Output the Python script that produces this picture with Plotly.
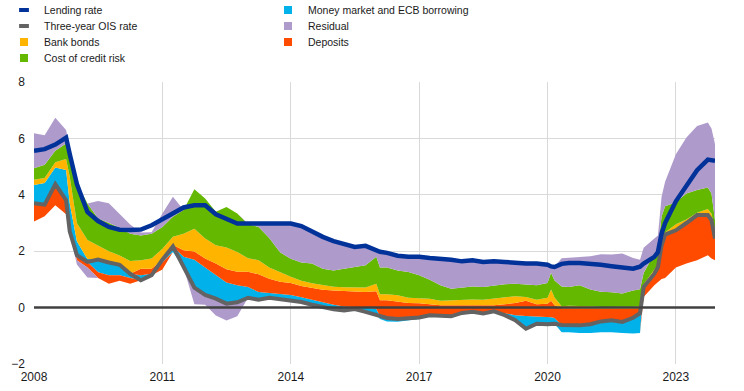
import plotly.graph_objects as go

# ---------------- data ----------------
months = [
    "2008-01", "2008-04", "2008-07", "2008-10", "2008-11", "2009-01", "2009-04", "2009-07", "2009-10",
    "2010-01", "2010-04", "2010-07", "2010-10", "2011-01", "2011-04", "2011-07", "2011-10",
    "2012-01", "2012-04", "2012-07", "2012-10", "2013-01", "2013-04", "2013-07", "2013-10",
    "2014-01", "2014-04", "2014-07", "2014-10", "2015-01", "2015-04", "2015-07", "2015-10",
    "2016-01", "2016-02", "2016-04", "2016-07", "2016-10", "2017-01", "2017-04", "2017-07", "2017-10",
    "2018-01", "2018-04", "2018-07", "2018-10", "2019-01", "2019-04", "2019-07", "2019-10",
    "2020-01", "2020-02", "2020-03", "2020-05", "2020-07", "2020-10", "2021-01", "2021-04", "2021-07", "2021-10",
    "2022-01", "2022-03", "2022-04", "2022-07", "2022-08", "2022-09", "2022-10",
    "2023-01", "2023-04", "2023-07", "2023-10", "2023-11", "2023-12",
]

lending_rate = [
    5.56, 5.62, 5.78, 6.03, 5.45, 4.38, 3.39, 3.07, 2.86,
    2.76, 2.75, 2.77, 2.92, 3.13, 3.37, 3.55, 3.63,
    3.63, 3.31, 3.16, 2.98, 2.98, 2.98, 2.96, 2.95,
    2.98, 2.89, 2.69, 2.51, 2.36, 2.25, 2.15, 2.19,
    2.03, 1.98, 1.94, 1.84, 1.80, 1.80, 1.76, 1.74, 1.70,
    1.64, 1.68, 1.62, 1.64, 1.62, 1.58, 1.56, 1.56,
    1.52, 1.46, 1.44, 1.55, 1.58, 1.58, 1.56, 1.52, 1.47, 1.42,
    1.38, 1.45, 1.56, 1.80, 1.97, 2.63, 3.00,
    3.77, 4.34, 4.87, 5.25, 5.23, 5.21,
]

ois_rate = [
    3.70, 3.65, 4.38, 3.81, 2.70, 1.86, 1.62, 1.70, 1.60,
    1.52, 1.20, 0.97, 1.15, 1.70, 2.17, 1.42, 0.71,
    0.45, 0.32, 0.14, 0.19, 0.35, 0.28, 0.35, 0.30,
    0.27, 0.20, 0.10, 0.02, -0.06, -0.10, -0.05, -0.15,
    -0.25, -0.30, -0.37, -0.40, -0.37, -0.35, -0.27, -0.30, -0.31,
    -0.19, -0.15, -0.21, -0.13, -0.27, -0.45, -0.75, -0.57,
    -0.59, -0.59, -0.57, -0.62, -0.62, -0.63, -0.59, -0.49, -0.45, -0.51,
    -0.36, -0.20, 0.73, 1.20, 1.44, 2.21, 2.59,
    2.74, 3.00, 3.28, 3.28, 3.10, 2.45,
]

money_market = [
    0.65, 0.77, 0.59, 1.07, 1.00, 0.49, 0.10, -0.45, -0.45,
    -0.37, -0.15, 0.18, 0.05, -0.10, -0.20, 0.38, 0.99,
    0.97, 0.83, 0.75, 0.60, 0.38, 0.27, 0.17, 0.17,
    0.18, 0.17, 0.18, 0.16, 0.16, 0.14, 0.08, 0.15,
    0.20, -0.10, -0.12, -0.10, -0.08, -0.05, 0.00, 0.00, 0.00,
    0.00, 0.00, 0.00, 0.00, 0.07, 0.18, 0.45, 0.26,
    0.25, 0.25, 0.20, -0.25, -0.25, -0.27, -0.31, -0.38, -0.42, -0.39,
    -0.56, -0.70, 0.00, 0.00, 0.00, 0.00, 0.00,
    0.00, 0.00, 0.00, 0.00, 0.00, 0.00,
]

deposits = [
    -0.65, -0.41, -0.75, -0.50, -0.05, -0.18, -0.20, -0.20, -0.30,
    -0.20, -0.20, 0.23, 0.18, -0.25, 0.05, 0.23, 0.29,
    0.32, 0.41, 0.47, 0.48, 0.54, 0.63, 0.50, 0.45,
    0.42, 0.40, 0.42, 0.45, 0.51, 0.55, 0.53, 0.55,
    0.63, 0.56, 0.63, 0.62, 0.53, 0.50, 0.39, 0.38, 0.39,
    0.27, 0.21, 0.28, 0.21, 0.32, 0.43, 0.54, 0.43,
    0.48, 0.58, 0.45, 0.60, 0.60, 0.60, 0.56, 0.46, 0.42, 0.48,
    0.33, 0.15, -0.35, -0.41, -0.55, -1.20, -1.54,
    -1.32, -1.44, -1.60, -1.42, -1.36, -0.77,
]

bank_bonds = [
    0.18, 0.18, 0.18, 0.39, 0.94, 0.65, 0.68, 0.50, 0.40,
    0.33, 0.45, 0.30, 0.36, 0.39, 0.29, 0.59, 0.81,
    0.71, 0.65, 0.77, 0.70, 0.48, 0.50, 0.40, 0.33,
    0.22, 0.18, 0.16, 0.17, 0.13, 0.13, 0.15, 0.16,
    0.27, 0.21, 0.21, 0.22, 0.19, 0.19, 0.19, 0.16, 0.18,
    0.21, 0.23, 0.21, 0.24, 0.22, 0.24, 0.14, 0.16,
    0.21, 0.40, 0.28, 0.07, 0.09, 0.10, 0.08, 0.05, 0.05, 0.05,
    0.06, 0.10, 0.10, 0.15, 0.08, 0.12, 0.07,
    0.22, 0.12, 0.08, 0.22, 0.23, 0.29,
]

credit_risk = [
    0.41, 0.47, 0.41, 0.55, 0.95, 1.40, 1.29, 0.96, 1.00,
    0.98, 0.97, 0.88, 0.88, 0.77, 0.71, 0.84, 1.40,
    1.42, 1.19, 1.44, 1.37, 1.21, 1.18, 1.05, 0.71,
    0.64, 0.65, 0.70, 0.58, 0.58, 0.66, 0.73, 0.79,
    0.95, 0.95, 0.95, 0.88, 0.91, 0.81, 0.68, 0.55, 0.41,
    0.42, 0.46, 0.45, 0.47, 0.49, 0.45, 0.43, 0.51,
    0.52, 0.60, 0.60, 0.70, 0.66, 0.72, 0.59, 0.54, 0.52, 0.48,
    0.58, 0.60, 0.40, 0.57, 0.51, 0.90, 0.93,
    0.78, 0.93, 0.81, 0.76, 0.72, 0.36,
]

residual = [
    1.24, 1.04, 1.17, 0.48, 0.05, -0.15, -0.35, 0.62, 0.70,
    0.50, 0.33, 0.10, 0.05, 0.48, 0.71, 0.00, -0.59,
    -0.35, -0.60, -0.60, -0.50, 0.02, 0.10, 0.48, 0.98,
    1.24, 1.28, 1.11, 1.10, 1.01, 0.84, 0.69, 0.67,
    0.23, 0.56, 0.52, 0.50, 0.52, 0.63, 0.75, 0.95, 1.03,
    0.93, 0.96, 0.89, 0.85, 0.79, 0.73, 0.75, 0.77,
    0.65, 0.25, 0.50, 1.00, 1.04, 1.01, 1.18, 1.33, 1.34, 1.42,
    1.15, 1.05, 0.89, 0.53, 0.53, 0.70, 0.87,
    1.70, 1.98, 2.27, 2.30, 2.30, 2.70,
]

x_tick_labels = ["2008", "2011", "2014", "2017", "2020", "2023"]
y_ticks = [-2, 0, 2, 4, 6, 8]

# ---------------- styling ----------------
C_LEND = "#003299"
C_OIS = "#636363"
C_BONDS = "#FFB400"
C_CREDIT = "#65B800"
C_MM = "#00B1EA"
C_RES = "#AF9BCB"
C_DEP = "#FF4B00"

TICK_FONT = dict(family="Liberation Sans, Arial, sans-serif", size=12, color="#1a1a1a")
LEG_FONT = dict(family="Liberation Sans, Arial, sans-serif", size=10.5, color="#1a1a1a")

dates = [m + "-01" for m in months]

# component order in the stack (closest to the OIS base first)
components = [
    ("Money market and ECB borrowing", money_market, C_MM),
    ("Deposits", deposits, C_DEP),
    ("Bank bonds", bank_bonds, C_BONDS),
    ("Cost of credit risk", credit_risk, C_CREDIT),
    ("Residual", residual, C_RES),
]

fig = go.Figure()

for group, sign in (("pos", 1), ("neg", -1)):
    # invisible base: the three-year OIS rate
    fig.add_trace(go.Scatter(
        x=dates, y=ois_rate, stackgroup=group, mode="lines",
        line=dict(width=0, color="rgba(0,0,0,0)"), fillcolor="rgba(0,0,0,0)",
        showlegend=False, hoverinfo="skip"))
    for name, vals, col in components:
        part = [max(v, 0.0) for v in vals] if sign > 0 else [min(v, 0.0) for v in vals]
        fig.add_trace(go.Scatter(
            x=dates, y=part, stackgroup=group, mode="lines",
            line=dict(width=0, color=col), fillcolor=col,
            name=name, showlegend=False, hoverinfo="skip"))

fig.add_trace(go.Scatter(x=dates, y=ois_rate, mode="lines",
                         line=dict(color=C_OIS, width=4), showlegend=False,
                         name="Three-year OIS rate"))
fig.add_trace(go.Scatter(x=dates, y=lending_rate, mode="lines",
                         line=dict(color=C_LEND, width=4.5), showlegend=False,
                         name="Lending rate"))

# legend entries: one small legend per entry, laid out as two columns
legend_entries = [
    # name, colour, kind, column, row
    ("Lending rate", C_LEND, "line", 0, 0),
    ("Three-year OIS rate", C_OIS, "line", 0, 1),
    ("Bank bonds", C_BONDS, "box", 0, 2),
    ("Cost of credit risk", C_CREDIT, "box", 0, 3),
    ("Money market and ECB borrowing", C_MM, "box", 1, 0),
    ("Residual", C_RES, "box", 1, 1),
    ("Deposits", C_DEP, "box", 1, 2),
]

W, H = 744, 391
col_left = [4, 268]          # px of legend box left edge
row_mid = [10, 26, 42, 58]   # px of row centre from top

legend_layouts = {}
for i, (name, col, kind, c, r) in enumerate(legend_entries):
    lid = "legend" if i == 0 else f"legend{i + 1}"
    if kind == "line":
        marker = dict(symbol="line-ew", size=7, line=dict(color=col, width=4))
    else:
        marker = dict(symbol="square", size=8, color=col, line=dict(width=0))
    fig.add_trace(go.Scatter(x=[None], y=[None], mode="markers", name=name,
                             legend=lid, marker=marker, hoverinfo="skip"))
    legend_layouts[lid] = dict(
        xref="container", yref="container",
        x=col_left[c] / W, y=1 - row_mid[r] / H,
        xanchor="left", yanchor="middle",
        font=LEG_FONT, bgcolor="rgba(0,0,0,0)", borderwidth=0, itemwidth=30,
    )

tickvals = [t + "-01-01" for t in x_tick_labels]

fig.update_layout(
    width=W, height=H,
    margin=dict(l=34, r=28.5, t=82, b=27.3, autoexpand=False),
    paper_bgcolor="white", plot_bgcolor="white",
    showlegend=True,
    xaxis=dict(type="date", range=["2008-01-01", "2023-12-01"],
               tickvals=tickvals, ticktext=x_tick_labels,
               showgrid=True, gridcolor="#d9d9d9", gridwidth=1,
               showline=False, zeroline=False, ticks="", tickfont=TICK_FONT,
               ticklabelstandoff=4),
    yaxis=dict(range=[-2, 8], tickvals=y_ticks,
               showgrid=True, gridcolor="#d9d9d9", gridwidth=1,
               showline=False, zeroline=False, ticks="", tickfont=TICK_FONT,
               ticklabelstandoff=8),
    shapes=[dict(type="line", xref="paper", x0=0, x1=1, yref="y", y0=0, y1=0,
                 line=dict(color="#404040", width=2.5), layer="above")],
    **legend_layouts,
)

# remove the browser's default 8px page margin so the figure sits at (0, 0)
fig.write_html("out.html", config={"displayModeBar": False},
               post_script="document.body.style.margin='0';")
